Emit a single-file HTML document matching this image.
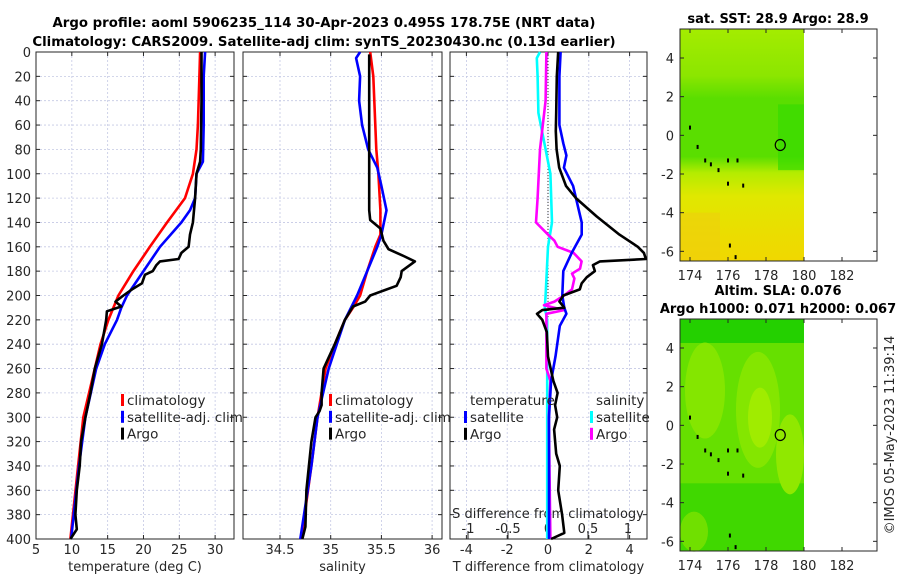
<!DOCTYPE html>
<html><head><meta charset="utf-8"><style>
html,body{margin:0;padding:0;background:#fff;}
svg{display:block;font-family:"DejaVu Sans","Liberation Sans",sans-serif;}
</style></head><body>
<svg id="fig" width="900" height="580" viewBox="0 0 900 580">
<defs>
<linearGradient id="sstGrad" x1="0" y1="0" x2="0" y2="1">
<stop offset="0" stop-color="#a4ec00"/><stop offset="0.2" stop-color="#8ce600"/>
<stop offset="0.3" stop-color="#5ade00"/><stop offset="0.55" stop-color="#5ade00"/>
<stop offset="0.62" stop-color="#b4ec00"/><stop offset="0.72" stop-color="#e0e800"/>
<stop offset="0.9" stop-color="#ecdc00"/><stop offset="1" stop-color="#f0d800"/>
</linearGradient>
</defs>
<g id="root"></g>
</svg>
<script>
// ---- data ----
const depthTicks=[0,20,40,60,80,100,120,140,160,180,200,220,240,260,280,300,320,340,360,380,400];
const tempTicks=[5,10,15,20,25,30];
const salTicks=[34.5,35,35.5,36];
const tdiffTicks=[-4,-2,0,2,4];
const sdiffTicks=[-1,-0.5,0,0.5,1];
const sdiffLabels=["-1","-0.5","0","0.5","1"];
const latTicks=[4,2,0,-2,-4,-6];
const lonTicks=[174,176,178,180,182];

const climTempDepth=[0,20,60,80,100,120,140,160,180,200,220,240,260,300,350,400];
const climTemp=[27.9,27.8,27.6,27.4,26.9,25.8,23.3,20.9,18.6,16.5,15.1,14.0,13.2,11.6,10.7,9.8];
const satTempDepth=[0,20,60,90,100,120,130,140,160,180,200,210,220,240,260,300,340,400];
const satTemp=[28.6,28.4,28.4,28.3,27.4,27.2,26.5,25.3,22.3,20.0,17.7,16.9,16.3,14.6,13.4,11.9,11.0,9.9];
const argoTempDepth=[0,40,80,90,100,120,140,150,160,165,170,172,175,180,183,190,195,200,205,209,213,220,240,260,280,300,320,340,360,380,392,400];
const argoTemp=[28.1,28.1,28.0,27.9,27.4,27.2,26.9,26.5,26.3,25.3,24.9,22.3,21.8,21.3,20.2,19.8,18.4,17.2,16.1,16.9,14.9,14.8,14.2,13.2,12.6,11.9,11.3,11.1,10.7,10.5,10.7,9.8];

const climSalDepth=[0,20,80,100,130,150,160,180,200,210,220,240,260,300,340,400];
const climSal=[35.39,35.42,35.45,35.47,35.49,35.49,35.44,35.36,35.29,35.22,35.14,35.04,34.95,34.87,34.81,34.71];
const satSalDepth=[0,5,20,40,60,80,95,110,130,150,160,180,200,210,220,240,260,300,340,400];
const satSal=[35.29,35.25,35.29,35.28,35.31,35.37,35.46,35.5,35.55,35.5,35.46,35.36,35.26,35.2,35.14,35.06,34.98,34.87,34.81,34.7];
const argoSalDepth=[2,130,138,145,155,162,168,172,180,185,192,196,200,205,209,220,240,260,280,290,295,300,320,360,390,400];
const argoSal=[35.38,35.38,35.39,35.49,35.52,35.57,35.73,35.83,35.7,35.69,35.65,35.52,35.39,35.34,35.22,35.14,35.04,34.93,34.91,34.91,34.89,34.85,34.81,34.76,34.75,34.72];

const satTdiffDepth=[0,20,60,75,85,95,110,140,150,165,180,200,210,215,225,250,270,300,400];
const satTdiff=[0.62,0.56,0.56,0.75,0.9,0.78,1.23,1.65,1.65,1.16,0.75,0.7,0.8,0.9,0.58,0.37,0.15,0.05,0.05];
const argoTdiffDepth=[0,20,50,65,80,95,110,120,135,150,160,165,170,172,175,180,185,190,195,200,205,210,212,215,220,230,250,270,280,290,300,310,330,340,360,380,395,400];
const argoTdiff=[0.5,0.43,0.4,0.38,0.42,0.55,0.88,1.37,2.38,3.5,4.4,4.7,4.8,2.55,2.2,2.3,1.9,1.65,1.56,0.75,0.56,0.8,-0.28,-0.54,-0.28,-0.06,0,0.26,0.47,0.35,0.45,0.3,0.4,0.58,0.5,0.69,0.8,0.15];
const satSdiffDepth=[0,5,20,50,80,100,140,160,200,210,220,400];
const satSdiff=[-0.1,-0.14,-0.13,-0.12,-0.03,0.03,0.05,0,-0.03,-0.04,-0.01,-0.01];
const argoSdiffDepth=[0,40,80,120,140,142,150,155,160,165,172,178,182,186,195,200,205,208,212,215,230,260,270,300,400];
const argoSdiff=[-0.02,-0.03,-0.1,-0.13,-0.15,-0.12,0,0.08,0.12,0.32,0.42,0.4,0.3,0.33,0.3,0.2,0.08,-0.05,0.2,-0.02,-0.02,-0.02,0.03,0.01,0.03];

// ---- geometry ----
const NS="http://www.w3.org/2000/svg";
const root=document.getElementById('root');
function mk(tag,attrs,parent){const e=document.createElementNS(NS,tag);for(const k in attrs)e.setAttribute(k,attrs[k]);(parent||root).appendChild(e);return e;}
function txt(x,y,s,attrs,parent){const e=mk('text',Object.assign({x:x,y:y,'font-size':13,fill:'#262626'},attrs||{}),parent);e.textContent=s;return e;}

const Y0=52,Y1=539;
const yD=d=>Y0+d/400*(Y1-Y0);
const P1={x0:36,x1:234},P2={x0:243,x1:442},P3={x0:450,x1:647};
const xT=t=>36+(t-5)*7.165;
const xS=s=>280+(s-34.5)*101.4;
const xTd=t=>548+t*20.4;
const xSd=s=>548+s*80;

function panel(P,name,xticks,xf,xlabels,xtitle){
  const g=mk('g',{},root);
  
  
  depthTicks.forEach(d=>{mk('line',{x1:P.x0,x2:P.x1,y1:yD(d),y2:yD(d),stroke:'#c4c8e4','stroke-width':0.8,'stroke-dasharray':'2,2'},g);});
  xticks.forEach(v=>{const x=xf(v);mk('line',{x1:x,x2:x,y1:Y0,y2:Y1,stroke:'#c4c8e4','stroke-width':0.8,'stroke-dasharray':'2,2'},g);
    mk('line',{x1:x,x2:x,y1:Y0,y2:Y0+4,stroke:'#262626'},g);mk('line',{x1:x,x2:x,y1:Y1,y2:Y1-4,stroke:'#262626'},g);});
  depthTicks.forEach(d=>{mk('line',{x1:P.x0,x2:P.x0+4,y1:yD(d),y2:yD(d),stroke:'#262626'},g);mk('line',{x1:P.x1,x2:P.x1-4,y1:yD(d),y2:yD(d),stroke:'#262626'},g);});
  mk('rect',{x:P.x0,y:Y0,width:P.x1-P.x0,height:Y1-Y0,fill:'none',stroke:'#262626','stroke-width':1},g);
  if(xlabels){xticks.forEach((v,i)=>{const t=txt(xf(v),554,xlabels[i],{'text-anchor':'middle'},g);});}
  const tt=txt((P.x0+P.x1)/2,571,xtitle,{'text-anchor':'middle'},g);
  
  
  return g;
}
const g1=panel(P1,'temperature-panel',tempTicks,xT,tempTicks.map(String),'temperature (deg C)');
const g2=panel(P2,'salinity-panel',salTicks,xS,salTicks.map(String),'salinity');
const g3=panel(P3,'difference-panel',tdiffTicks,xTd,tdiffTicks.map(String),'T difference from climatology');
depthTicks.forEach(d=>{const t=txt(31,yD(d)+5,String(d),{'text-anchor':'end'});});
mk('line',{x1:548,x2:548,y1:Y0,y2:Y1,stroke:'#333','stroke-width':1,'stroke-dasharray':'1,2'},g3);
const sl=txt(548,518,'S difference from climatology',{'text-anchor':'middle'},g3);


sdiffTicks.forEach((v,i)=>{const x=xSd(v);const t=txt(x,533,sdiffLabels[i],{'text-anchor':'middle'},g3);mk('line',{x1:x,x2:x,y1:Y1,y2:Y1-8,stroke:'#262626'},g3);});

function line(g,depths,vals,xf,color,name){
  const pts=depths.map((d,i)=>xf(vals[i]).toFixed(1)+','+yD(d).toFixed(1)).join(' ');
  const p=mk('polyline',{points:pts,fill:'none',stroke:color,'stroke-width':2.6,'stroke-linejoin':'round'},g);
  
  
}
line(g1,climTempDepth,climTemp,xT,'#ff0000','climatology-temp-line');
line(g1,satTempDepth,satTemp,xT,'#0000ff','satellite-temp-line');
line(g1,argoTempDepth,argoTemp,xT,'#000000','argo-temp-line');
line(g2,climSalDepth,climSal,xS,'#ff0000','climatology-sal-line');
line(g2,satSalDepth,satSal,xS,'#0000ff','satellite-sal-line');
line(g2,argoSalDepth,argoSal,xS,'#000000','argo-sal-line');
line(g3,satSdiffDepth,satSdiff,xSd,'#00ffff','satellite-sdiff-line');
line(g3,argoSdiffDepth,argoSdiff,xSd,'#ff00ff','argo-sdiff-line');
line(g3,satTdiffDepth,satTdiff,xTd,'#0000ff','satellite-tdiff-line');
line(g3,argoTdiffDepth,argoTdiff,xTd,'#000000','argo-tdiff-line');

function legend(g,x,y0,items){
  items.forEach((it,i)=>{const y=y0+i*16.8;
    if(it[1]) mk('rect',{x:x,y:y-6,width:3,height:12,fill:it[1]},g);
    const t=txt(x+6,y+5,it[0],{'font-size':13.5},g);
    
    });
}
legend(g1,121,400,[['climatology','#ff0000'],['satellite-adj. clim','#0000ff'],['Argo','#000000']]);
legend(g2,329,400,[['climatology','#ff0000'],['satellite-adj. clim','#0000ff'],['Argo','#000000']]);
txt(470,405,'temperature',{'font-size':13.5},g3);
txt(596,405,'salinity',{'font-size':13.5},g3);
legend(g3,464,417,[['satellite','#0000ff'],['Argo','#000000']]);
legend(g3,590,417,[['satellite','#00ffff'],['Argo','#ff00ff']]);

const t1=txt(324,27,'Argo profile: aoml 5906235_114 30-Apr-2023 0.495S 178.75E (NRT data)',{'text-anchor':'middle','font-weight':'bold','fill':'#000','font-size':13.3});


const t2=txt(324,46,'Climatology: CARS2009. Satellite-adj clim: synTS_20230430.nc (0.13d earlier)',{'text-anchor':'middle','font-weight':'bold','fill':'#000','font-size':13.3});



function map(top,name,fillFn,titles){
  const g=mk('g',{},root);
  
  
  const X0=680,X1=877,H=232,B=top+H;
  const lx=lon=>690+(lon-174)*19;
  const ly=lat=>top+(5.5-lat)*(H/12);
  fillFn(g,X0,lx(180),top,B,ly);
  mk('rect',{x:X0,y:top,width:X1-X0,height:H,fill:'none',stroke:'#262626'},g);
  latTicks.forEach(l=>{const y=ly(l);mk('line',{x1:X0,x2:X0+4,y1:y,y2:y,stroke:'#262626'},g);mk('line',{x1:X1,x2:X1-4,y1:y,y2:y,stroke:'#262626'},g);
    const t=txt(674,y+5,String(l),{'text-anchor':'end'},g);});
  lonTicks.forEach(l=>{const x=lx(l);mk('line',{x1:x,x2:x,y1:B,y2:B-4,stroke:'#262626'},g);mk('line',{x1:x,x2:x,y1:top,y2:top+4,stroke:'#262626'},g);
    const t=txt(x,B+19,String(l),{'text-anchor':'middle'},g);});
  [[174,0.4],[174.4,-0.6],[174.8,-1.3],[175.1,-1.5],[175.5,-1.8],[176,-1.3],[176.5,-1.3],[176,-2.5],[176.8,-2.6],[176.1,-5.7],[176.4,-6.3]].forEach(p=>mk('rect',{x:lx(p[0])-1,y:ly(p[1])-2,width:2,height:4,fill:'#000'},g));
  const c=mk('ellipse',{cx:lx(178.75),cy:ly(-0.5),rx:5,ry:5.5,fill:'none',stroke:'#000','stroke-width':1.2},g);
  
  
  titles.forEach((s,i)=>{const t=txt(778,top-(titles.length-1-i)*18-6,s,{'text-anchor':'middle','font-weight':'bold','fill':'#000'},g);});
}
map(29,'sst-map',(g,x0,x1,t,b,ly)=>{mk('rect',{x:x0,y:t,width:x1-x0,height:b-t,fill:'url(#sstGrad)'},g);
  mk('rect',{x:x1-26,y:ly(1.6),width:26,height:ly(-1.8)-ly(1.6),fill:'#36dc00',opacity:0.7},g);
  mk('rect',{x:x0,y:ly(-4),width:40,height:ly(-6.5)-ly(-4),fill:'#f0cc10',opacity:0.5},g);},['sat. SST: 28.9 Argo: 28.9']);
map(319,'sla-map',(g,x0,x1,t,b,ly)=>{mk('rect',{x:x0,y:t,width:x1-x0,height:b-t,fill:'#66e000'},g);
  mk('rect',{x:x0,y:t,width:x1-x0,height:24,fill:'#24d000'},g);
  mk('rect',{x:x0,y:ly(-3),width:x1-x0,height:b-ly(-3),fill:'#40d800'},g);
  mk('ellipse',{cx:x0+25,cy:ly(1.8),rx:20,ry:48,fill:'#84e600'},g);
  mk('ellipse',{cx:x0+78,cy:ly(0.8),rx:22,ry:58,fill:'#84e600'},g);
  mk('ellipse',{cx:x0+80,cy:ly(0.4),rx:12,ry:30,fill:'#a0ec00'},g);
  mk('ellipse',{cx:x1-14,cy:ly(-1.5),rx:14,ry:40,fill:'#90e800'},g);
  mk('ellipse',{cx:x0+14,cy:ly(-5.5),rx:14,ry:20,fill:'#70e000'},g);},['Altim. SLA: 0.076','Argo h1000: 0.071 h2000: 0.067']);

const cr=txt(0,0,'©IMOS 05-May-2023 11:39:14',{'text-anchor':'middle',transform:'translate(894,435) rotate(-90)'});


</script>
</body></html>
